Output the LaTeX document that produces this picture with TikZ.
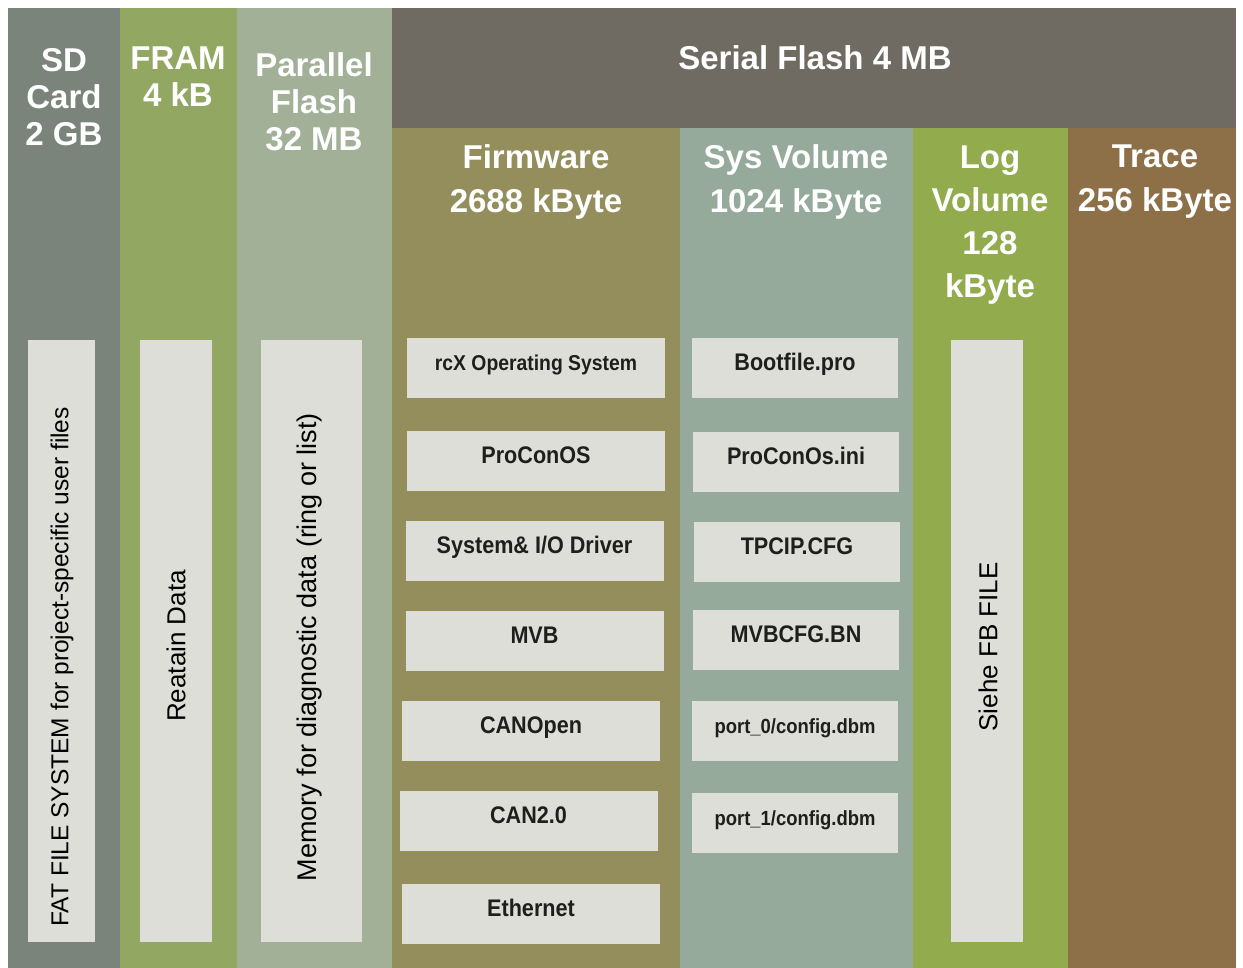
\documentclass[tikz,border=0pt]{standalone}
\usepackage{fontspec}
\setmainfont{Liberation Sans}
\newfontfamily\narrowfont{Liberation Sans}[FakeStretch=0.9]
\usepackage{tikz}
\usetikzlibrary{positioning}
\definecolor{sdgray}{RGB}{122,132,123}
\definecolor{framgreen}{RGB}{146,168,98}
\definecolor{pargreen}{RGB}{161,176,150}
\definecolor{serialgray}{RGB}{111,107,99}
\definecolor{fwolive}{RGB}{148,141,92}
\definecolor{sysgreen}{RGB}{150,170,155}
\definecolor{loggreen}{RGB}{146,171,76}
\definecolor{tracebrown}{RGB}{141,112,72}
\definecolor{boxgray}{RGB}{221,222,216}
\definecolor{boxtext}{RGB}{30,30,30}

\begin{document}
\begin{tikzpicture}[x=1pt, y=-1pt,
  head/.style={text=white, font=\fontsize{33}{37}\selectfont\bfseries,
               align=center, inner sep=0pt},
  slot/.style={fill=boxgray, inner sep=0pt, minimum height=60pt, text=boxtext,
               text height=17pt, text depth=12pt,
               font=\narrowfont\fontsize{24}{28}\selectfont\bfseries},
  fwslot/.style={slot, minimum width=258pt},
  sysslot/.style={slot, minimum width=206pt},
  vbox/.style={fill=boxgray, inner sep=0pt, minimum height=602pt},
  vlab/.style={rotate=90, text=black, inner sep=0pt}
]
\useasboundingbox (0,0) rectangle (1243,968);

% memory columns
\fill[sdgray] (8,8) rectangle (120,968);
\fill[framgreen] (120,8) rectangle (237,968);
\fill[pargreen] (237,8) rectangle (392,968);
\fill[serialgray] (392,8) rectangle (1236,128);
\fill[fwolive] (392,128) rectangle (680,968);
\fill[sysgreen] (680,128) rectangle (913,968);
\fill[loggreen] (913,128) rectangle (1068,968);
\fill[tracebrown] (1068,128) rectangle (1236,968);

% headings
\node[head] (sd) at (64,97) {SD\\Card\\2 GB};
\node[head] (fram) at (178,77) {FRAM\\4 kB};
\node[head] (par) at (314,102) {Parallel\\Flash\\32 MB};
\node[head] (serial) at (815,58) {Serial Flash 4 MB};
\node[head, font=\fontsize{33}{44}\selectfont\bfseries] (fw) at (536,182)
  {Firmware\\2688 kByte};
\node[head, font=\fontsize{33}{44}\selectfont\bfseries] (sys) at (796,182)
  {Sys Volume\\1024 kByte};
\node[head, font=\fontsize{33}{43}\selectfont\bfseries] (log) at (990,225)
  {Log\\Volume\\128\\kByte};
\node[head, font=\fontsize{33}{44}\selectfont\bfseries] (trace) at (1155,182)
  {Trace\\256 kByte};

% vertical areas
\node[vbox, minimum width=67pt] (sdbox) at (61.5,641) {};
\node[vlab, font=\fontsize{24.5}{28}\selectfont] (sdlab) at (62,667)
  {FAT FILE SYSTEM for project-specific user files};
\node[vbox, minimum width=72pt] (frambox) at (176,641) {};
\node[vlab, font=\fontsize{26}{30}\selectfont] (framlab) at (176,646) {Reatain Data};
\node[vbox, minimum width=101pt] (parbox) at (311.5,641) {};
\node[vlab, font=\fontsize{27}{30}\selectfont] (parlab) at (310,647)
  {Memory for diagnostic data (ring or list)};
\node[vbox, minimum width=72pt] (logbox) at (987,641) {};
\node[vlab, font=\fontsize{26}{30}\selectfont] (loglab) at (988,647) {Siehe FB FILE};

% firmware parts
\node[fwslot, font=\narrowfont\fontsize{21.5}{26}\selectfont\bfseries] (rcx) at (536,368)
  {rcX Operating System};
\node[fwslot] (pcos) at (536,461) {ProConOS};
\node[fwslot] (drv) at (534.5,550.5) {System\& I/O Driver};
\node[fwslot] (mvb) at (534.5,640.5) {MVB};
\node[fwslot] (canopen) at (531,730.5) {CANOpen};
\node[fwslot] (can) at (528.5,821) {CAN2.0};
\node[fwslot] (eth) at (531,913.5) {Ethernet};

% sys volume files
\node[sysslot] (boot) at (795,368) {Bootfile.pro};
\node[sysslot] (pcini) at (796,462) {ProConOs.ini};
\node[sysslot] (tpcip) at (797,552) {TPCIP.CFG};
\node[sysslot] (mvbcfg) at (796,640) {MVBCFG.BN};
\node[sysslot, font=\narrowfont\fontsize{20.5}{24}\selectfont\bfseries] (port0) at (795,731)
  {port\_0/config.dbm};
\node[sysslot, font=\narrowfont\fontsize{20.5}{24}\selectfont\bfseries] (port1) at (795,822.5)
  {port\_1/config.dbm};
\end{tikzpicture}
\end{document}
